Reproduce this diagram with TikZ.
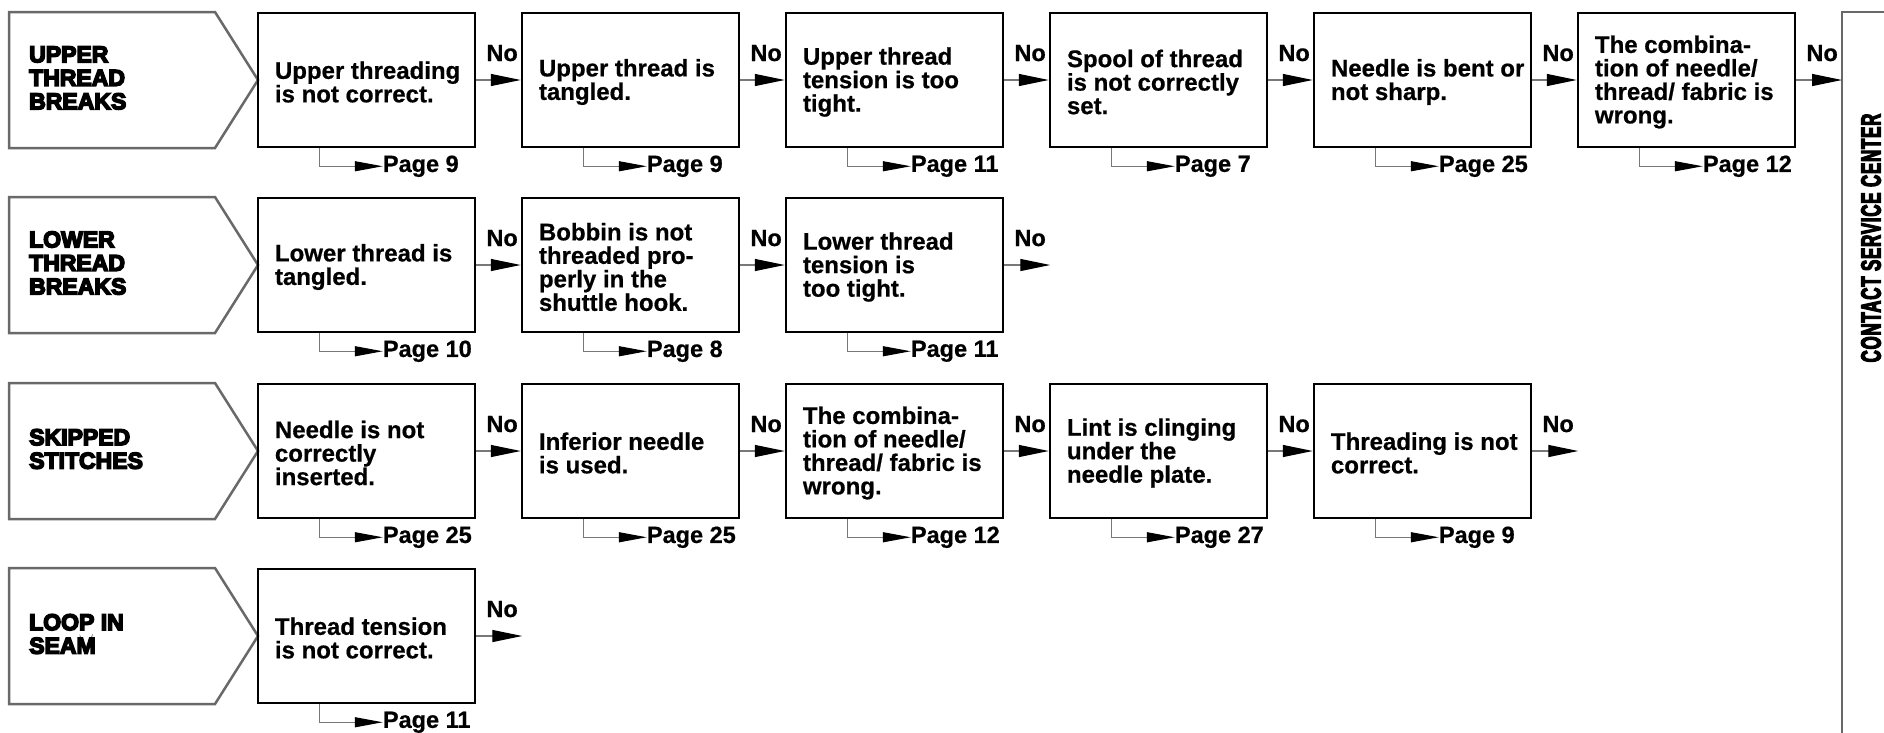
\documentclass[tikz,border=0pt]{standalone}
\usepackage{fontspec}
\setmainfont{Liberation Sans}
\newfontfamily\boxfont[FakeBold=0.6]{Liberation Sans Bold}
\newfontfamily\heavyfont[FakeBold=6.5]{Liberation Sans Bold}
\newfontfamily\condfont[FakeBold=4,FakeStretch=0.6,LetterSpace=3]{Liberation Sans Bold}
\usetikzlibrary{arrows.meta}
\definecolor{linegray}{RGB}{120,120,120}
\definecolor{framegray}{RGB}{105,105,105}
\begin{document}
\begin{tikzpicture}[x=1pt,y=-1pt,
 box/.style={draw=black, line width=2.5pt, minimum width=217pt, minimum height=134pt, inner sep=0pt},
 txt/.style={anchor=west, align=left, inner sep=0pt, font=\boxfont\fontsize{24}{23.5}\selectfont},
 lbl/.style={anchor=west, align=left, inner sep=0pt, font=\heavyfont\fontsize{23}{23.5}\selectfont},
 notxt/.style={anchor=base west, inner sep=0pt, font=\boxfont\fontsize{23.5}{23.5}\selectfont},
 pgtxt/.style={anchor=west, inner sep=0pt, font=\boxfont\fontsize{23.5}{23.5}\selectfont},
 flow/.style={draw=linegray, line width=1.2pt, -{Triangle[length=30pt,width=12pt,color=black]}},
 pgflow/.style={draw=linegray, line width=1.2pt, -{Triangle[length=28pt,width=10pt,color=black]}},
 pent/.style={draw=framegray, line width=2.5pt, line join=miter},
 frame/.style={draw=framegray, line width=2.5pt}
]
\useasboundingbox (0,0) rectangle (1884,732);

% ---------- labels (pentagons) ----------
\draw[pent] (9,12) -- (215,12) -- (258,80) -- (215,148) -- (9,148) -- cycle;
\node[lbl] (lab1) at (29,78) {UPPER\\THREAD\\BREAKS};
\draw[pent] (9,197) -- (215,197) -- (258,265) -- (215,333) -- (9,333) -- cycle;
\node[lbl] (lab2) at (29,263) {LOWER\\THREAD\\BREAKS};
\draw[pent] (9,383) -- (215,383) -- (258,451) -- (215,519) -- (9,519) -- cycle;
\node[lbl] (lab3) at (29,449) {SKIPPED\\STITCHES};
\draw[pent] (9,568) -- (215,568) -- (258,636) -- (215,704) -- (9,704) -- cycle;
\node[lbl] (lab4) at (29,634) {LOOP IN\\SEAM};

% ---------- contact service center ----------
\draw[frame] (1890,12) -- (1842,12) -- (1842,740);
\coordinate (cs) at (1842,80);
\node[font=\condfont\fontsize{28}{28}\selectfont, rotate=90, inner sep=0pt] (cst) at (1871,238) {CONTACT SERVICE CENTER};

% ---------- row 1 ----------
\node[box] (u1) at (366.5,80) {};
\node[box] (u2) at (630.5,80) {};
\node[box] (u3) at (894.5,80) {};
\node[box] (u4) at (1158.5,80) {};
\node[box] (u5) at (1422.5,80) {};
\node[box] (u6) at (1686.5,80) {};
\node[txt] (u1t) at ([xshift=18pt,yshift=-2pt]u1.west) {Upper threading\\is not correct.};
\node[txt] (u2t) at ([xshift=18pt,yshift=-2pt]u2.west) {Upper thread is\\tangled.};
\node[txt] (u3t) at ([xshift=18pt,yshift=-2pt]u3.west) {Upper thread\\tension is too\\tight.};
\node[txt] (u4t) at ([xshift=18pt,yshift=-2pt]u4.west) {Spool of thread\\is not correctly\\set.};
\node[txt] (u5t) at ([xshift=18pt,yshift=-2pt]u5.west) {Needle is bent or\\not sharp.};
\node[txt] (u6t) at ([xshift=18pt,yshift=-2pt]u6.west) {The combina-\\tion of needle/\\thread/ fabric is\\wrong.};
\foreach \a/\b in {u1/u2,u2/u3,u3/u4,u4/u5,u5/u6,u6/cs}{
  \draw[flow] (\a.east) -- (\b);
  \node[notxt] (\a no) at ([xshift=10pt,yshift=19pt]\a.east) {No};
}
\node[pgtxt] (u1g) at ([xshift=126pt,yshift=-18pt]u1.south west) {Page 9};
\node[pgtxt] (u2g) at ([xshift=126pt,yshift=-18pt]u2.south west) {Page 9};
\node[pgtxt] (u3g) at ([xshift=126pt,yshift=-18pt]u3.south west) {Page 11};
\node[pgtxt] (u4g) at ([xshift=126pt,yshift=-18pt]u4.south west) {Page 7};
\node[pgtxt] (u5g) at ([xshift=126pt,yshift=-18pt]u5.south west) {Page 25};
\node[pgtxt] (u6g) at ([xshift=126pt,yshift=-18pt]u6.south west) {Page 12};

% ---------- row 2 ----------
\node[box] (l1) at (366.5,265) {};
\node[box] (l2) at (630.5,265) {};
\node[box] (l3) at (894.5,265) {};
\node[txt] (l1t) at ([xshift=18pt,yshift=-2pt]l1.west) {Lower thread is\\tangled.};
\node[txt] (l2t) at ([xshift=18pt,yshift=-2pt]l2.west) {Bobbin is not\\threaded pro-\\perly in the\\shuttle hook.};
\node[txt] (l3t) at ([xshift=18pt,yshift=-2pt]l3.west) {Lower thread\\tension is\\too tight.};
\coordinate (le) at ([xshift=46pt]l3.east);
\foreach \a/\b in {l1/l2,l2/l3,l3/le}{
  \draw[flow] (\a.east) -- (\b);
  \node[notxt] (\a no) at ([xshift=10pt,yshift=19pt]\a.east) {No};
}
\node[pgtxt] (l1g) at ([xshift=126pt,yshift=-18pt]l1.south west) {Page 10};
\node[pgtxt] (l2g) at ([xshift=126pt,yshift=-18pt]l2.south west) {Page 8};
\node[pgtxt] (l3g) at ([xshift=126pt,yshift=-18pt]l3.south west) {Page 11};

% ---------- row 3 ----------
\node[box] (s1) at (366.5,451) {};
\node[box] (s2) at (630.5,451) {};
\node[box] (s3) at (894.5,451) {};
\node[box] (s4) at (1158.5,451) {};
\node[box] (s5) at (1422.5,451) {};
\node[txt] (s1t) at ([xshift=18pt,yshift=-2pt]s1.west) {Needle is not\\correctly\\inserted.};
\node[txt] (s2t) at ([xshift=18pt,yshift=-2pt]s2.west) {Inferior needle\\is used.};
\node[txt] (s3t) at ([xshift=18pt,yshift=-2pt]s3.west) {The combina-\\tion of needle/\\thread/ fabric is\\wrong.};
\node[txt] (s4t) at ([xshift=18pt,yshift=-2pt]s4.west) {Lint is clinging\\under the\\needle plate.};
\node[txt] (s5t) at ([xshift=18pt,yshift=-2pt]s5.west) {Threading is not\\correct.};
\coordinate (se) at ([xshift=46pt]s5.east);
\foreach \a/\b in {s1/s2,s2/s3,s3/s4,s4/s5,s5/se}{
  \draw[flow] (\a.east) -- (\b);
  \node[notxt] (\a no) at ([xshift=10pt,yshift=19pt]\a.east) {No};
}
\node[pgtxt] (s1g) at ([xshift=126pt,yshift=-18pt]s1.south west) {Page 25};
\node[pgtxt] (s2g) at ([xshift=126pt,yshift=-18pt]s2.south west) {Page 25};
\node[pgtxt] (s3g) at ([xshift=126pt,yshift=-18pt]s3.south west) {Page 12};
\node[pgtxt] (s4g) at ([xshift=126pt,yshift=-18pt]s4.south west) {Page 27};
\node[pgtxt] (s5g) at ([xshift=126pt,yshift=-18pt]s5.south west) {Page 9};

% ---------- row 4 ----------
\node[box] (p1) at (366.5,636) {};
\node[txt] (p1t) at ([xshift=18pt,yshift=-2pt]p1.west) {Thread tension\\is not correct.};
\coordinate (pe) at ([xshift=46pt]p1.east);
\draw[flow] (p1.east) -- (pe);
\node[notxt] (p1no) at ([xshift=10pt,yshift=19pt]p1.east) {No};
\node[pgtxt] (p1g) at ([xshift=126pt,yshift=-18pt]p1.south west) {Page 11};

% ---------- page connectors ----------
\foreach \b in {u1,u2,u3,u4,u5,u6,l1,l2,l3,s1,s2,s3,s4,s5,p1}{
  \draw[pgflow] ([xshift=63pt]\b.south west) |- (\b g.west);
}
\end{tikzpicture}
\end{document}
